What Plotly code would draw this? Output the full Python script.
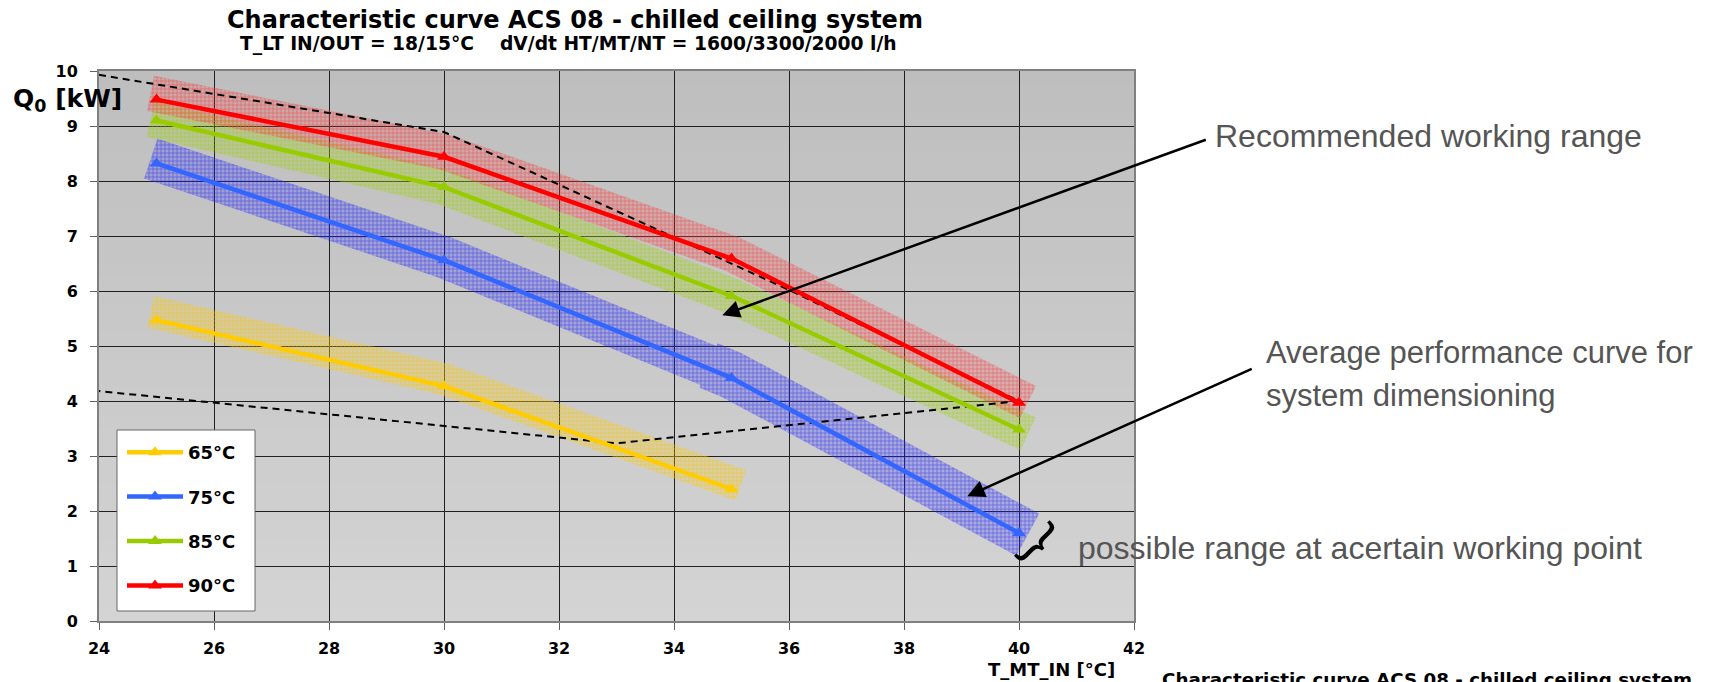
import numpy as np
import plotly.graph_objects as go

# ---------------- data ----------------
t_mt_in = [25, 30, 35, 40]
series_names = ["65°C", "75°C", "85°C", "90°C"]
q_65 = [5.47, 4.27, 2.40]
q_75 = [8.32, 6.56, 4.42, 1.60]
q_85 = [9.10, 7.89, 5.91, 3.48]
q_90 = [9.48, 8.44, 6.59, 3.97]

# envelope of the recommended working range (dashed)
env_x = [24, 30, 36, 40, 33, 24]
env_y = [9.93, 8.89, 6.02, 4.00, 3.23, 4.18]

# band segment break points (x) per series
band_breaks_65 = [25, 28.4, 32, 35]
band_breaks_75 = [25, 34.6, 40]
band_breaks_85 = [25, 28, 30, 40]
band_breaks_90 = [25, 28, 34, 40]

# ---------------- style ----------------
colors = ["#FFCC00", "#3366FF", "#99CC00", "#FF0000"]
band_fg = ["#F5C400", "#2020FF", "#9ACD10", "#FF3030"]
band_bg = ["rgba(255,210,40,0.24)", "rgba(40,40,255,0.22)",
           "rgba(160,210,0,0.20)", "rgba(255,60,60,0.18)"]
band_half = [[16, 16, 16], [21, 24], [18, 18, 18], [18, 18, 18]]
band_off = [7, 3, 0, 5]

X0, X1, Y0, Y1 = 24, 42, 0, 10
# page is offset by the 8px body margin; figure is sized to fit the window
W, H = 1702, 674
L, R, T, B = 91, 576, 63, 61
AX = (W - L - R) / (X1 - X0)
AY = (H - T - B) / (Y1 - Y0)
PLOT_LEFT_PAGE, PLOT_BOTTOM_PAGE = 99, 621


def band_polygon(xs, ys, xa, xb, half, off, ext_a, ext_b):
    px = [xa] + [x for x in xs if xa < x < xb] + [xb]
    py = list(np.interp(px, xs, ys))
    P = np.array([[x * AX, y * AY] for x, y in zip(px, py)])
    d = np.diff(P, axis=0)
    t = d / np.linalg.norm(d, axis=1)[:, None]
    nseg = np.stack([-t[:, 1], t[:, 0]], axis=1)
    normals = []
    for i in range(len(P)):
        if i == 0:
            n = nseg[0]
        elif i == len(P) - 1:
            n = nseg[-1]
        else:
            m = nseg[i - 1] + nseg[i]
            m = m / np.linalg.norm(m)
            n = m / np.dot(m, nseg[i])
        normals.append(n)
    normals = np.array(normals)
    P = P.copy()
    P[0] -= t[0] * ext_a
    P[-1] += t[-1] * ext_b
    P[:, 1] += off
    up = P + normals * half
    lo = P - normals * half
    poly = np.vstack([up, lo[::-1], up[:1]])
    return list(poly[:, 0] / AX), list(poly[:, 1] / AY)


fig = go.Figure()

all_q = [q_65, q_75, q_85, q_90]
all_breaks = [band_breaks_65, band_breaks_75, band_breaks_85, band_breaks_90]

# bands
for k, (q, br) in enumerate(zip(all_q, all_breaks)):
    xs = t_mt_in[:len(q)]
    for j in range(len(br) - 1):
        ea = 6 if j == 0 else 0
        eb = 10 if j == len(br) - 2 else 0
        bx, by = band_polygon(xs, q, br[j], br[j + 1], band_half[k][j],
                              band_off[k], ea, eb)
        fig.add_trace(go.Scatter(
            x=bx, y=by, mode="lines", fill="toself",
            line=dict(width=0), fillcolor=band_bg[k],
            fillpattern=dict(shape="+", size=4, solidity=0.3,
                             fgcolor=band_fg[k], fgopacity=0.6,
                             bgcolor=band_bg[k]),
            showlegend=False, hoverinfo="skip"))

# dashed envelope
fig.add_trace(go.Scatter(x=env_x, y=env_y, mode="lines",
                         line=dict(color="black", width=2, dash="7px,5px"),
                         showlegend=False, hoverinfo="skip"))

# curves
for k, q in enumerate(all_q):
    fig.add_trace(go.Scatter(
        x=t_mt_in[:len(q)], y=q, mode="lines+markers", name=series_names[k],
        legendgroup=series_names[k],
        line=dict(color=colors[k], width=4.5),
        marker=dict(symbol="triangle-up", size=12, color=colors[k])))

FONT = "Liberation Sans"
BOLD = "DejaVu Sans"


def px_x(p):
    return (p - PLOT_LEFT_PAGE) / (W - L - R)


def px_y(p):
    return (PLOT_BOTTOM_PAGE - p) / (H - T - B)


# background gradient
N = 40
c_top = np.array([190, 190, 190])
c_bot = np.array([212, 212, 212])
shapes = []
for i in range(N):
    f = (i + 0.5) / N
    c = (c_bot * (1 - f) + c_top * f).round().astype(int)
    shapes.append(dict(type="rect", xref="x domain", yref="y domain",
                       x0=0, x1=1, y0=i / N, y1=(i + 1) / N + 0.002,
                       fillcolor=f"rgb({c[0]},{c[1]},{c[2]})",
                       line=dict(width=0), layer="below"))
# legend frame
shapes.append(dict(type="rect", xref="paper", yref="paper",
                   x0=px_x(117), x1=px_x(255), y0=px_y(611), y1=px_y(430),
                   fillcolor="white", line=dict(color="#666666", width=1),
                   layer="above"))

annotations = [
    dict(text="<b>Characteristic curve ACS 08 - chilled ceiling system</b>",
         xref="paper", yref="paper", x=px_x(575), y=px_y(20),
         xanchor="center", yanchor="middle", showarrow=False,
         font=dict(family=BOLD, size=24, color="black")),
    dict(text="<b>T_LT IN/OUT = 18/15°C    dV/dt HT/MT/NT = 1600/3300/2000 l/h</b>",
         xref="paper", yref="paper", x=px_x(568), y=px_y(44),
         xanchor="center", yanchor="middle", showarrow=False,
         font=dict(family=BOLD, size=18.7, color="black")),
    dict(text="<b>Q<sub>0</sub> [kW]</b>", xref="paper", yref="paper",
         x=px_x(11), y=px_y(100), xanchor="left", yanchor="middle",
         showarrow=False, font=dict(family=BOLD, size=25, color="black")),
    dict(text="<b>T_MT_IN [°C]</b>", xref="paper", yref="paper",
         x=px_x(1051), y=px_y(669), xanchor="center", yanchor="middle",
         showarrow=False, font=dict(family=BOLD, size=18, color="black")),
    dict(text="<b>Characteristic curve ACS 08 - chilled ceiling system</b>",
         xref="paper", yref="paper", x=px_x(1160), y=px_y(667),
         xanchor="left", yanchor="top", showarrow=False,
         font=dict(family=BOLD, size=18.3, color="black")),
    dict(text="Recommended working range", xref="paper", yref="paper",
         x=px_x(1213), y=px_y(136), xanchor="left", yanchor="middle",
         showarrow=False, font=dict(family=FONT, size=32, color="#555555")),
    dict(text="Average performance curve for",
         xref="paper", yref="paper", x=px_x(1264), y=px_y(352),
         xanchor="left", yanchor="middle", showarrow=False,
         font=dict(family=FONT, size=31, color="#555555")),
    dict(text="system dimensioning",
         xref="paper", yref="paper", x=px_x(1264), y=px_y(396),
         xanchor="left", yanchor="middle", showarrow=False,
         font=dict(family=FONT, size=31, color="#555555")),
    dict(text="possible range at acertain working point", xref="paper",
         yref="paper", x=px_x(1076), y=px_y(548), xanchor="left",
         yanchor="middle", showarrow=False,
         font=dict(family=FONT, size=32, color="#555555")),
    dict(text="", x=34.84, y=5.56, ax=485, ay=-176, showarrow=True,
         arrowhead=2, arrowsize=1.4, arrowwidth=2.5, arrowcolor="black"),
    dict(text="", x=39.1, y=2.27, ax=286, ay=-128, showarrow=True,
         arrowhead=2, arrowsize=1.4, arrowwidth=2.5, arrowcolor="black"),
    dict(text="}", x=40.38, y=1.47, showarrow=False, textangle=45,
         font=dict(family=FONT, size=54, color="black")),
]

axis_common = dict(showline=True, linecolor="#808080", linewidth=2,
                   mirror=True, ticks="outside", ticklen=7,
                   tickcolor="#606060", tickwidth=1, showgrid=True,
                   gridcolor="#202020", gridwidth=1, zeroline=False,
                   tickprefix="<b>", ticksuffix="</b>",
                   tickfont=dict(family=BOLD, size=16, color="black"))

fig.update_xaxes(range=[X0, X1], dtick=2, tick0=24, ticklabelstandoff=5,
                 **axis_common)
fig.update_yaxes(range=[Y0, Y1], dtick=1, tick0=0, ticklabelstandoff=9,
                 **axis_common)

fig.update_layout(
    width=W, height=H, autosize=False,
    margin=dict(l=L, r=R, t=T, b=B, pad=0),
    paper_bgcolor="white", plot_bgcolor="#c8c8c8",
    shapes=shapes, annotations=annotations,
    showlegend=True,
    legend=dict(x=px_x(122), y=px_y(434), xanchor="left", yanchor="top",
                bgcolor="rgba(0,0,0,0)", borderwidth=0,
                traceorder="grouped", tracegroupgap=18, itemwidth=56,
                font=dict(family=BOLD, size=18, color="black", weight="bold")),
    font=dict(family=FONT),
)

fig.write_html("out.html")
